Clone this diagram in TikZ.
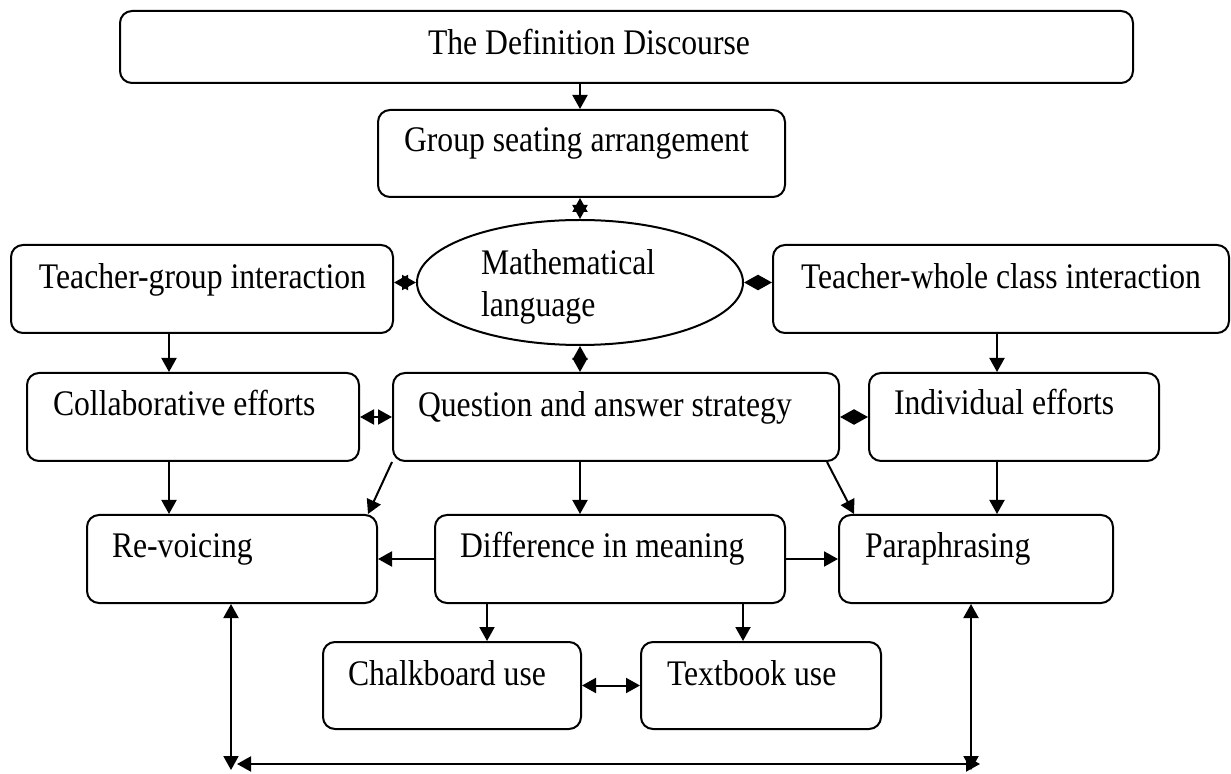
\documentclass[tikz,border=0pt]{standalone}
\usepackage{fontspec}
\setmainfont[FakeStretch=0.88]{Liberation Serif}
\usetikzlibrary{arrows.meta,fit,shapes.geometric}

\begin{document}
\begin{tikzpicture}[x=0.5pt, y=-0.5pt, line width=1pt,
  >={Triangle[length=7pt,width=7.5pt]},
  box/.style={draw, rounded corners=6pt, inner sep=0pt},
  txt/.style={anchor=base west, inner sep=0pt, font=\fontsize{18}{21}\selectfont}]
\useasboundingbox (0,0) rectangle (1231,774);

% boxes
\node[box, fit={(120,11) (1133,83)}] (def) {};
\node[box, fit={(378,110) (785,197)}] (grp) {};
\node[draw, ellipse, inner sep=0pt, minimum width=163pt, minimum height=62.5pt] (ml) at (580,282.5) {};
\node[box, fit={(11,245) (393,333)}] (tg) {};
\node[box, fit={(773,245) (1229,333)}] (tw) {};
\node[box, fit={(27,373) (359,461)}] (coll) {};
\node[box, fit={(393,373) (839,461)}] (qa) {};
\node[box, fit={(869,373) (1159,461)}] (ind) {};
\node[box, fit={(87,515) (377,603)}] (rev) {};
\node[box, fit={(435,515) (785,603)}] (dif) {};
\node[box, fit={(839,515) (1113,603)}] (para) {};
\node[box, fit={(323,642) (581,729)}] (chalk) {};
\node[box, fit={(641,642) (881,729)}] (tbook) {};

% texts
\node[txt] (def-t) at (427,55) {The Definition Discourse};
\node[txt] (grp-t) at (403,152) {Group seating arrangement};
\node[txt] (ml-t1) at (480,275) {Mathematical};
\node[txt] (ml-t2) at (480,317) {language};
\node[txt] (tg-t) at (38,289) {Teacher-group interaction};
\node[txt] (tw-t) at (800,289) {Teacher-whole class interaction};
\node[txt] (coll-t) at (52,416) {Collaborative efforts};
\node[txt] (qa-t) at (417,417) {Question and answer strategy};
\node[txt] (ind-t) at (893,415) {Individual efforts};
\node[txt] (rev-t) at (111,558) {Re-voicing};
\node[txt] (dif-t) at (459,558) {Difference in meaning};
\node[txt] (para-t) at (864,558) {Paraphrasing};
\node[txt] (chalk-t) at (347,685) {Chalkboard use};
\node[txt] (tbook-t) at (666,685) {Textbook use};

% columns of the vertical arrows
\coordinate (xl) at (169,0);
\coordinate (xm) at (580,0);
\coordinate (xr) at (997,0);
\coordinate (xc) at (487,0);
\coordinate (xt) at (743,0);
\coordinate (bl) at (231,770);
\coordinate (br) at (971,770);
\coordinate (hl) at (237,764);
\coordinate (hr) at (980,764);

\draw[->] (def.south -| xm) -- (grp.north -| xm);
\draw[<->] (grp.south -| xm) -- (ml.north);
\draw[<->] (tg.east |- ml.west) -- (ml.west);
\draw[<->] (ml.east) -- (tw.west |- ml.east);
\draw[<->] (ml.south) -- (qa.north -| xm);
\draw[->] (tg.south -| xl) -- (coll.north -| xl);
\draw[->] (tw.south -| xr) -- (ind.north -| xr);
\draw[<->] (coll.east) -- (qa.west);
\draw[<->] (qa.east) -- (ind.west);
\draw[->] (coll.south -| xl) -- (rev.north -| xl);
\draw[->] (qa.south west) -- ([xshift=-5pt]rev.north east);
\draw[->] (qa.south -| xm) -- (dif.north -| xm);
\draw[->] ([xshift=-6.5pt]qa.south east) -- ([xshift=8pt]para.north west);
\draw[->] (ind.south -| xr) -- (para.north -| xr);
\draw[->] (dif.west) -- (rev.east);
\draw[->] (dif.east) -- (para.west);
\draw[->] (dif.south -| xc) -- (chalk.north -| xc);
\draw[->] (dif.south -| xt) -- (tbook.north -| xt);
\draw[<->] (chalk.east) -- (tbook.west);
\draw[<->] (rev.south -| bl) -- (bl);
\draw[<->] (para.south -| br) -- (br);
\draw[<->] (hl) -- (hr);
\end{tikzpicture}
\end{document}
